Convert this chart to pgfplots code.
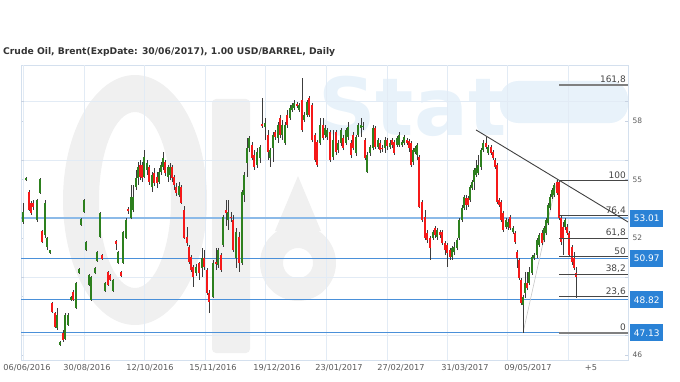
\documentclass[border=0pt]{standalone}
\usepackage{pgfplots}
\pgfplotsset{compat=1.18}
\usepackage{pgfplotstable}
\usepackage{fontspec}
\setmainfont{DejaVu Sans}
\definecolor{upc}{RGB}{45,128,30}
\definecolor{dnc}{RGB}{245,25,25}
\definecolor{wick}{RGB}{60,60,60}
\definecolor{lvl}{RGB}{74,144,217}
\definecolor{lvlL}{RGB}{140,186,232}
\definecolor{boxc}{RGB}{42,130,214}
\definecolor{gridc}{RGB}{226,235,245}
\definecolor{fibc}{RGB}{70,70,70}
\definecolor{txt}{RGB}{90,90,90}
\definecolor{wmg}{RGB}{240,240,240}
\definecolor{wmb}{RGB}{232,242,250}

\pgfplotstableread{
x o h l c
23 52.82 53.80 52.72 53.33
26 54.97 55.13 54.92 55.08
37 52.92 54.00 52.82 53.95
40 54.31 55.08 54.26 55.03
45 52.15 53.95 52.00 53.80
47 51.54 52.05 51.38 52.00
50 51.23 51.40 51.18 51.38
57 47.39 48.41 47.28 48.05
60 46.51 46.72 46.46 46.67
65 46.82 48.15 46.77 48.05
68 47.54 48.15 47.49 48.05
71 48.82 49.03 48.77 48.97
76 48.41 49.74 48.36 49.69
79 50.21 50.46 50.15 50.41
81 52.67 53.03 52.62 52.97
84 53.33 54.00 53.28 53.95
86 51.38 51.85 51.33 51.79
89 49.59 50.15 49.54 50.10
91 48.82 50.05 48.77 50.00
95 50.21 50.51 50.15 50.46
97 50.82 51.33 50.77 51.28
100 52.05 53.33 52.00 53.28
105 49.28 49.74 49.23 49.69
113 49.28 49.90 49.23 49.85
118 50.72 51.33 50.67 51.28
123 50.72 52.36 50.67 52.31
126 52.00 53.03 51.95 52.92
131 53.03 54.72 52.97 54.10
133 53.44 54.72 53.33 54.10
136 54.62 55.49 54.46 55.08
138 55.08 55.90 54.72 55.64
144 55.13 56.51 55.08 56.15
147 55.49 56.00 55.23 55.85
152 54.62 55.38 54.36 55.23
159 54.87 55.59 54.77 55.38
161 55.38 55.90 55.23 55.74
163 55.64 56.41 55.49 56.10
168 55.13 55.74 54.87 55.64
170 55.23 55.85 54.97 55.64
179 54.21 54.87 54.10 54.67
196 50.21 50.67 50.05 50.51
202 50.46 51.49 50.00 50.97
213 48.97 50.87 48.92 50.72
218 50.62 51.49 50.46 51.38
223 51.64 53.18 51.54 53.08
228 52.92 53.95 52.41 53.33
236 50.97 52.51 50.46 52.31
242 50.72 54.46 50.62 54.36
244 54.21 55.38 53.85 55.23
247 55.85 57.13 55.13 56.62
249 56.62 57.23 56.41 57.13
257 55.74 56.62 55.59 56.41
260 56.10 56.77 55.85 56.67
265 57.69 58.15 57.03 57.90
270 56.10 56.62 55.64 56.51
273 56.62 57.44 55.90 57.28
278 57.13 57.95 56.87 57.79
282 57.28 58.05 57.03 57.79
285 56.87 57.95 56.77 57.79
290 58.15 58.82 58.05 58.67
292 58.56 58.92 58.46 58.82
294 58.67 59.08 58.56 58.92
299 58.56 58.92 58.46 58.82
304 58.05 58.46 57.95 58.31
307 58.31 59.08 58.21 58.97
320 56.87 58.15 56.77 57.79
325 57.28 57.79 57.13 57.64
327 57.18 57.64 57.03 57.54
333 56.15 57.54 56.00 57.03
338 56.51 57.03 56.36 56.87
341 56.87 57.64 56.72 57.54
346 56.87 57.64 56.77 57.54
348 57.18 57.95 57.03 57.69
356 56.36 57.28 56.21 57.18
358 57.28 57.90 57.18 57.79
361 57.64 58.15 57.18 57.79
363 57.69 57.95 57.54 57.74
367 55.38 56.41 55.33 56.26
370 56.36 56.77 56.21 56.67
373 56.62 57.79 56.51 57.64
378 56.67 57.13 56.56 57.03
385 56.62 57.18 56.36 57.03
390 56.67 57.03 56.56 56.87
397 56.77 57.23 56.67 57.13
399 56.77 57.44 56.67 57.28
402 56.77 57.03 56.67 56.92
404 56.87 57.28 56.77 57.18
413 55.90 56.62 55.74 56.51
415 56.41 56.72 56.31 56.62
417 56.26 56.87 56.00 56.77
433 52.00 52.41 51.90 52.31
437 52.05 52.51 51.90 52.41
452 51.03 51.59 50.87 51.49
454 51.28 51.79 51.13 51.54
457 51.49 52.00 51.38 51.90
459 52.00 53.03 51.90 52.92
462 52.92 53.69 52.82 53.54
464 53.54 54.21 53.44 54.10
470 53.95 54.72 53.85 54.62
472 54.56 54.97 54.46 54.87
474 54.87 55.59 54.46 55.49
476 55.23 56.00 55.13 55.59
478 55.33 56.26 55.23 55.74
481 55.64 56.62 55.49 56.51
483 56.51 57.03 56.41 56.87
488 56.36 56.77 56.26 56.67
506 52.56 53.03 52.46 52.92
508 52.56 52.97 52.41 52.82
513 52.31 52.62 52.21 52.51
523 48.56 49.08 47.13 48.97
525 49.18 50.26 48.92 49.69
529 49.69 50.51 49.59 50.26
532 50.21 51.13 50.10 51.03
534 50.97 51.23 50.87 51.13
537 51.13 52.00 50.97 51.90
539 51.64 52.26 51.54 52.15
544 51.90 52.62 51.79 52.51
546 52.26 53.03 52.15 52.92
548 52.77 53.80 52.67 53.69
550 53.54 54.26 53.44 54.10
552 54.10 54.56 54.00 54.46
554 54.21 54.82 54.10 54.72
565 52.56 53.03 52.41 52.92
}\updata

\pgfplotstableread{
x o h l c
29 54.36 54.46 53.38 53.44
31 53.80 53.90 53.18 53.28
33 53.80 53.95 53.44 53.59
42 52.36 52.41 51.74 51.79
52 48.67 48.72 48.15 48.21
55 48.15 48.21 47.39 47.44
63 47.13 47.28 46.67 46.77
73 49.23 49.33 48.77 48.82
102 51.13 51.18 50.87 50.92
108 50.26 50.31 49.54 49.59
110 50.10 50.15 49.80 49.85
116 51.85 51.90 51.38 51.69
121 50.26 50.31 50.00 50.05
128 53.49 53.59 53.23 53.38
140 55.74 56.00 54.97 55.13
142 55.74 55.90 54.87 55.08
149 55.64 55.74 54.72 54.87
154 55.33 55.59 54.67 54.82
157 55.13 55.38 54.56 54.82
165 55.90 56.00 55.18 55.33
172 55.64 55.74 54.87 55.08
174 55.13 55.23 54.46 54.72
176 54.62 54.82 54.15 54.31
181 54.62 54.72 53.74 53.80
184 53.44 53.64 51.95 52.00
187 52.05 52.56 51.59 51.74
189 51.54 51.64 50.67 50.77
191 51.03 51.13 50.26 50.36
193 50.51 50.62 49.49 50.00
199 50.72 50.77 49.85 50.21
204 50.97 51.38 50.36 50.51
207 50.36 50.46 49.08 49.18
209 49.18 49.33 48.15 48.72
216 50.77 51.49 50.36 50.67
221 51.13 51.23 50.26 50.36
226 53.44 53.95 52.62 53.28
231 53.08 53.33 52.82 53.03
233 52.92 53.18 51.28 51.38
239 52.05 52.31 50.26 50.72
252 56.77 56.92 56.00 56.10
254 56.26 56.51 55.49 55.64
262 57.85 59.18 57.64 57.74
268 57.28 57.54 56.00 56.41
275 57.44 57.54 57.03 57.18
280 58.15 58.31 57.13 57.28
287 58.31 58.56 57.64 57.79
297 58.87 58.97 58.67 58.77
302 59.08 60.21 57.44 57.54
309 59.18 59.28 58.21 58.31
312 58.82 58.92 56.92 57.03
315 57.28 57.38 55.90 56.00
317 56.92 57.03 55.64 55.74
323 57.79 58.15 57.03 57.13
330 57.44 57.54 55.90 56.00
336 57.44 57.54 56.26 56.41
343 57.13 57.28 56.51 56.62
351 56.87 57.03 56.10 56.26
353 57.28 57.44 56.51 56.62
365 57.03 57.13 56.00 56.10
375 57.64 57.74 56.56 56.67
380 56.87 57.03 56.36 56.51
382 56.62 56.77 56.41 56.56
387 57.03 57.13 56.51 56.72
392 57.03 57.13 56.62 56.77
394 56.92 57.03 56.26 56.36
407 57.03 57.13 56.77 56.87
409 56.97 57.08 56.41 56.62
411 56.87 56.97 55.64 55.74
419 56.15 56.26 53.54 53.59
422 53.85 53.95 52.82 52.92
425 53.08 53.44 51.90 52.00
427 52.26 52.41 51.74 51.90
430 52.00 52.10 50.87 51.49
435 52.51 52.62 52.00 52.15
440 52.31 52.41 52.00 52.15
442 52.31 52.41 51.64 51.74
445 51.74 51.85 51.13 51.38
447 51.64 51.74 50.51 51.23
450 51.38 51.49 50.87 51.03
466 54.05 54.21 53.44 53.69
468 54.05 54.15 53.59 53.69
486 56.87 57.18 56.56 56.67
491 56.67 56.77 56.26 56.36
493 56.41 56.51 56.00 56.10
495 56.00 56.10 55.54 55.64
497 55.74 55.85 53.74 53.85
499 53.95 54.05 53.59 53.69
501 53.85 53.95 52.82 52.92
503 53.28 53.38 52.31 52.41
510 53.08 53.18 52.41 52.51
515 52.26 52.36 51.69 51.79
517 51.28 51.38 50.46 50.97
519 50.87 50.97 49.85 49.95
521 49.85 49.95 48.56 48.67
527 49.69 50.26 49.33 49.44
542 52.26 52.41 51.64 51.74
557 54.87 54.97 54.21 54.31
559 54.87 54.92 52.92 53.03
561 53.03 53.13 51.64 51.79
563 52.56 52.82 51.13 52.00
567 52.56 52.72 52.15 52.26
569 52.26 52.36 51.03 51.13
572 51.54 51.64 50.62 50.77
574 50.97 51.28 50.36 50.46
576 50.21 50.51 48.92 50.00
}\dndata

\pgfplotsset{
  candle/.style={draw=none, no markers, forget plot,
    error bars/.cd, y dir=plus, y explicit, error mark=none,
    error bar style={draw=#1}},
}

\begin{document}
\begin{tikzpicture}[x=1pt,y=1pt]
\useasboundingbox (0,0) rectangle (680,381);
% faint watermark (OilStat logo), drawn first so everything lies on top
\fill[wmg, even odd rule] (135,181) ellipse [x radius=72, y radius=125] (135,181) ellipse [x radius=36, y radius=88];
\fill[wmg, rounded corners=4pt] (212,28) rectangle (250,282);
\fill[wmg, even odd rule] (298,118) circle [radius=38] (298,118) circle [radius=15];
\fill[wmg] (275,150) -- (298,205) -- (321,150) -- cycle;
\node[anchor=west, inner sep=0, text=wmb, font=\bfseries\fontsize{80}{80}\selectfont] at (318,275) {Stat};
\fill[wmb, rounded corners=18pt] (500,258) rectangle (628,300);
\node[anchor=west, inner sep=0, text=black!80, font=\bfseries\fontsize{9.2}{10}\selectfont] at (3,329) {Crude Oil, Brent(ExpDate: 30/06/2017), 1.00 USD/BARREL, Daily};
\begin{axis}[
  at={(21pt,21pt)}, anchor=south west,
  scale only axis, width=607pt, height=295pt,
  xmin=21, xmax=628, ymin=45.74, ymax=60.87,
  clip=false,
  axis line style={draw={rgb,255:red,212;green,224;blue,238}},
  x axis line style={draw=none},
  xtick={27,87,150,213,277,339,401,465,528,591},
  xticklabels={06/06/2016,30/08/2016,12/10/2016,15/11/2016,19/12/2016,23/01/2017,27/02/2017,31/03/2017,09/05/2017,+5},
  x tick style={draw=none},
  xticklabel style={font=\fontsize{8.2}{9}\selectfont, text=txt, yshift=-1pt},
  extra x ticks={23,84,144,205,265,326,387,447,507,568},
  extra x tick labels={},
  extra x tick style={grid=major, major grid style={draw=gridc, line width=0.8pt}, tick style={draw=gridc}},
  ytick={46,49,52,55,58},
  yticklabels={46,,52,55,58},
  yticklabel pos=right,
  y tick style={draw={rgb,255:red,200;green,210;blue,225}},
  major tick length=3pt,
  yticklabel style={font=\fontsize{7.5}{8}\selectfont, text=txt, xshift=1pt},
  extra y ticks={47,50,53,56,59},
  extra y tick labels={},
  extra y tick style={grid=major, major grid style={draw=gridc, line width=0.8pt}, tick style={draw=none}},
]
% level lines
\addplot[lvlL, line width=1.6pt] coordinates {(21,53.01) (628,53.01)};
\addplot[lvl, line width=1pt] coordinates {(21,50.97) (628,50.97)};
\addplot[lvl, line width=1pt] coordinates {(21,48.82) (628,48.82)};
\addplot[lvl, line width=1pt] coordinates {(21,47.13) (628,47.13)};
% fib anchor and trend line
\addplot[black!22, line width=0.6pt] coordinates {(523,47.13) (557,54.97)};
\addplot[black!75, line width=0.9pt] coordinates {(476,57.54) (628,52.82)};
% wicks
\addplot[candle={wick, line width=0.7pt}]
  table[x=x, y=l, y error plus expr=\thisrow{h}-\thisrow{l}] {\updata};
\addplot[candle={wick, line width=0.7pt}]
  table[x=x, y=l, y error plus expr=\thisrow{h}-\thisrow{l}] {\dndata};
% bodies
\addplot[candle={upc, line width=2pt}]
  table[x=x, y=o, y error plus expr=\thisrow{c}-\thisrow{o}] {\updata};
\addplot[candle={dnc, line width=2pt}]
  table[x=x, y=c, y error plus expr=\thisrow{o}-\thisrow{c}] {\dndata};
% fibonacci levels
\addplot[black!50, line width=2pt] coordinates {(559,59.83) (628,59.83)};
\addplot[fibc, line width=0.9pt] coordinates {(559,54.97) (628,54.97)};
\addplot[fibc, line width=0.9pt] coordinates {(559,53.13) (628,53.13)};
\addplot[fibc, line width=0.9pt] coordinates {(559,51.98) (628,51.98)};
\addplot[fibc, line width=0.9pt] coordinates {(559,51.05) (628,51.05)};
\addplot[fibc, line width=0.9pt] coordinates {(559,50.12) (628,50.12)};
\addplot[fibc, line width=0.9pt] coordinates {(559,48.98) (628,48.98)};
\addplot[black!50, line width=2pt] coordinates {(559,47.13) (628,47.13)};
\begin{scope}[every node/.style={anchor=south east, inner sep=1pt, text=fibc, font=\fontsize{9}{10}\selectfont}]
\node at (axis cs:627,59.88) {161,8};
\node at (axis cs:627,55.00) {100};
\node at (axis cs:627,53.15) {76,4};
\node at (axis cs:627,52.00) {61,8};
\node at (axis cs:627,51.08) {50};
\node at (axis cs:627,50.14) {38,2};
\node at (axis cs:627,49.00) {23,6};
\node at (axis cs:627,47.18) {0};
\end{scope}
\begin{scope}[every node/.style={anchor=west, fill=boxc, text=white, inner sep=0, minimum width=33pt, minimum height=17pt, font=\fontsize{9}{10}\selectfont}]
\node at (axis cs:630,53.01) {53.01};
\node at (axis cs:630,50.97) {50.97};
\node at (axis cs:630,48.82) {48.82};
\node at (axis cs:630,47.13) {47.13};
\end{scope}
\end{axis}
\end{tikzpicture}
\end{document}
